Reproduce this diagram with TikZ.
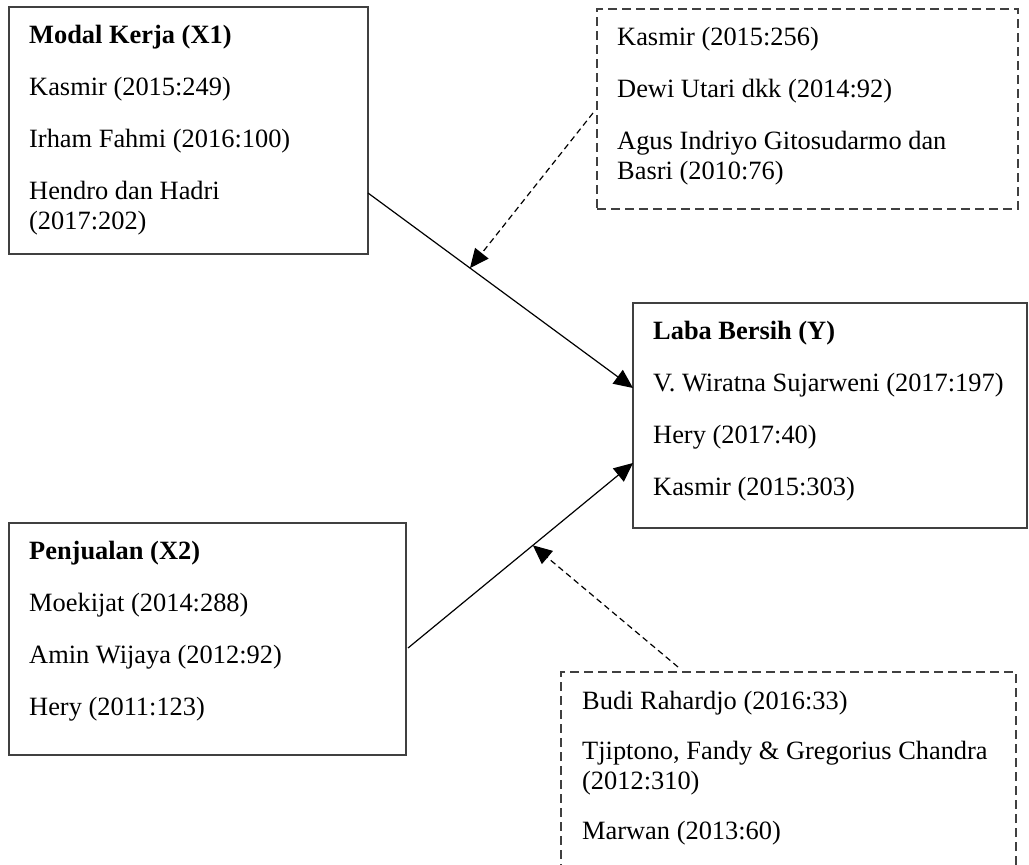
\documentclass[tikz,border=0pt]{standalone}
\usepackage{fontspec}
\setmainfont{Liberation Serif}
\usetikzlibrary{arrows.meta,positioning,calc}

\newcommand{\linetop}{\rule{0pt}{20pt}}

\begin{document}
\begin{tikzpicture}[x=1pt,y=-1pt,
  box/.style={draw=black!75,line width=1.5pt,outer sep=0pt,inner sep=0pt,anchor=north west},
  refbox/.style={box,dash pattern=on 9pt off 5pt},
  txt/.style={align=left,inner sep=0pt,font=\fontsize{26.4}{30}\selectfont},
  link/.style={line width=1.2pt,-{Triangle[length=19pt,width=17pt]}},
  cite/.style={link,dash pattern=on 6pt off 4pt}]
  \useasboundingbox (0,0) rectangle (1029,865);
  \clip (0,0) rectangle (1029,865);

  \node[box,minimum width=359pt,minimum height=247pt] (X1) at (9,7) {};
  \node[box,minimum width=397pt,minimum height=232pt] (X2) at (9,523) {};
  \node[box,minimum width=394pt,minimum height=225pt] (Y) at (633,303) {};
  \node[refbox,minimum width=421pt,minimum height=200pt] (R1) at (597,9) {};
  \node[refbox,minimum width=455pt,minimum height=228pt] (R2) at (561,672) {};

  \node[txt,below right=16pt and 20pt of X1.north west] (X1t) {\linetop\textbf{Modal Kerja (X1)}\\[22pt]
    Kasmir (2015:249)\\[22pt] Irham Fahmi (2016:100)\\[22pt] Hendro dan Hadri\\ (2017:202)};
  \node[txt,below right=16pt and 20pt of X2.north west] (X2t) {\linetop\textbf{Penjualan (X2)}\\[22pt]
    Moekijat (2014:288)\\[22pt] Amin Wijaya (2012:92)\\[22pt] Hery (2011:123)};
  \node[txt,below right=16pt and 20pt of Y.north west] (Yt) {\linetop\textbf{Laba Bersih (Y)}\\[22pt]
    V. Wiratna Sujarweni (2017:197)\\[22pt] Hery (2017:40)\\[22pt] Kasmir (2015:303)};
  \node[txt,below right=16pt and 20pt of R1.north west] (R1t) {\linetop Kasmir (2015:256)\\[22pt]
    Dewi Utari dkk (2014:92)\\[22pt] Agus Indriyo Gitosudarmo dan\\ Basri (2010:76)};
  \node[txt,below right=17pt and 21pt of R2.north west] (R2t) {\linetop Budi Rahardjo (2016:33)\\[20pt]
    Tjiptono, Fandy \& Gregorius Chandra\\ (2012:310)\\[20pt] Marwan (2013:60)};

  \coordinate (s1a) at ([yshift=-62.5pt]X1.east);
  \coordinate (s1b) at ([yshift=27.5pt]Y.west);
  \coordinate (s2a) at ([xshift=2pt,yshift=-9pt]X2.east);
  \coordinate (s2b) at ([yshift=-47.5pt]Y.west);
  \draw[link] (s1a) -- (s1b);
  \draw[link] (s2a) -- (s2b);
  \draw[cite] ([xshift=-4pt,yshift=-4pt]R1.west) -- ($(s1a)!0.385!(s1b)$);
  \draw[cite] ([xshift=-110.5pt,yshift=5pt]R2.north) -- ($(s2a)!0.555!(s2b)$);

  % \draw[cite] (R2.north) -- (Y.south);
\end{tikzpicture}
\end{document}
